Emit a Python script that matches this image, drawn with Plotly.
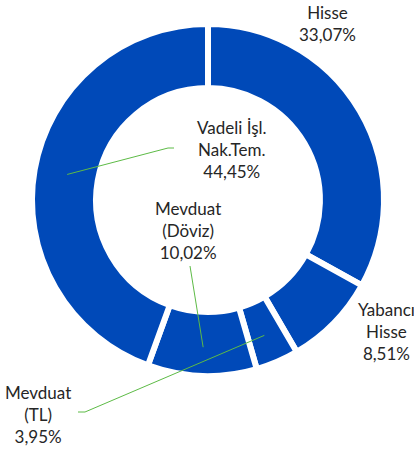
import math
import plotly.graph_objects as go

labels = ["Hisse", "Yabancı Hisse", "Mevduat (TL)", "Mevduat (Döviz)", "Vadeli İşl. Nak.Tem."]
values = [33.07, 8.51, 3.95, 10.02, 44.45]
label_lines = [["Hisse"], ["Yabancı", "Hisse"], ["Mevduat", "(TL)"], ["Mevduat", "(Döviz)"], ["Vadeli İşl.", "Nak.Tem."]]

W, H = 414, 452
BLUE = "#0049B8"
GREEN = "#5DBB46"
TEXT = "#262626"

# pie geometry (pixels)
cx, cy, R = 208, 200, 176
dom_x = [(cx - R) / W, (cx + R) / W]
dom_y = [1 - (cy + R) / H, 1 - (cy - R) / H]

fig = go.Figure(go.Pie(
    labels=labels, values=values, sort=False, direction="clockwise", rotation=0,
    hole=0.636, textinfo="none", hoverinfo="label+percent",
    marker=dict(colors=[BLUE] * len(values), line=dict(color="white", width=6)),
    domain=dict(x=dom_x, y=dom_y), showlegend=False,
))

def fmt(v):
    return f"{v:.2f}".replace(".", ",") + "%"

# label block centers (pixels)
label_pos = [(327, 24), (386, 331), (38, 414), (188, 231), (232, 150)]
for lines, v, (lx, ly) in zip(label_lines, values, label_pos):
    fig.add_annotation(
        x=lx / W, y=1 - ly / H, xref="paper", yref="paper",
        text="<br>".join(lines + [fmt(v)]), showarrow=False,
        xanchor="center", yanchor="middle", align="center",
        font=dict(family="Lato, Open Sans, sans-serif", size=17, color=TEXT),
    )

# leader lines from slice mid-points to labels
total = sum(values)
cum = 0
mids = []
for v in values:
    mids.append((cum + v / 2) / total * 360)
    cum += v
r_mid = 143
leader_ends = {2: [(85, 412), (78, 412)], 3: [(190, 266)], 4: [(168, 148), (174, 148)]}
for i, pts in leader_ends.items():
    a = math.radians(mids[i])
    sx = cx + r_mid * math.sin(a)
    sy = cy - r_mid * 1.03 * math.cos(a)
    path_pts = [(sx, sy)] + pts
    d = "M " + " L ".join(f"{px / W},{1 - py / H}" for px, py in path_pts)
    fig.add_shape(type="path", path=d, xref="paper", yref="paper",
                  line=dict(color=GREEN, width=1))

fig.update_layout(
    width=W, height=H, margin=dict(l=0, r=0, t=0, b=0),
    paper_bgcolor="white", plot_bgcolor="white",
)
fig.write_html("out.html", config={"displayModeBar": False},
               post_script="document.body.style.margin='0';")
